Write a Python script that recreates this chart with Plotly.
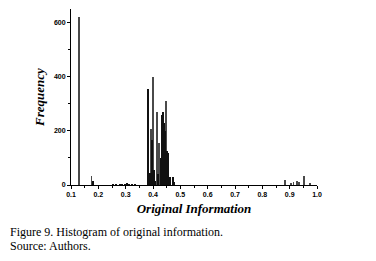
import plotly.graph_objects as go

# Data
dark_x = [0.382, 0.386, 0.389, 0.395, 0.403, 0.406, 0.417, 0.420, 0.428, 0.431, 0.433, 0.436,
          0.439, 0.442, 0.445, 0.452, 0.456, 0.462, 0.474, 0.478,
          0.255, 0.265, 0.278, 0.285, 0.298, 0.305, 0.312, 0.322, 0.335, 0.18]
dark_y = [355, 40, 45, 165, 55, 15, 25, 40, 100, 140, 260, 270,
          180, 230, 200, 125, 120, 30, 30, 10,
          2, 1, 2, 3, 2, 5, 2, 2, 2, 15]
gray_x = [0.128, 0.175, 0.392, 0.399, 0.413, 0.423, 0.440, 0.449,
          0.883, 0.905, 0.914, 0.926, 0.935, 0.953, 0.975]
gray_y = [620, 35, 205, 400, 270, 155, 80, 310,
          20, 5, 10, 15, 12, 35, 5]

x_ticks = [0.1, 0.2, 0.3, 0.4, 0.5, 0.6, 0.7, 0.8, 0.9, 1.0]
y_ticks = [0, 200, 400, 600]

fig = go.Figure()
fig.add_trace(go.Bar(x=gray_x, y=gray_y, width=0.0035, marker_color="#4a4a4a",
                     marker_line_width=0))
fig.add_trace(go.Bar(x=dark_x, y=dark_y, width=0.0035, marker_color="#111111",
                     marker_line_width=0))

tickfont = dict(family="Liberation Sans", size=7, color="black")
fig.update_layout(
    width=368, height=253,
    margin=dict(l=63, r=59, t=1, b=76),
    paper_bgcolor="white", plot_bgcolor="white",
    showlegend=False, barmode="overlay", bargap=0,
    font=dict(family="Liberation Sans", color="black"),
)
fig.update_xaxes(
    range=[0.1, 1.0], tickvals=x_ticks, ticktext=[f"<b>{v:.1f}</b>" for v in x_ticks],
    tickfont=tickfont, ticks="outside", ticklen=3, tickwidth=1, tickcolor="black",
    minor=dict(dtick=0.05, tick0=0.1, ticks="outside", ticklen=2, tickcolor="black"),
    showline=True, linecolor="black", linewidth=1, showgrid=False, zeroline=False,
    title=dict(text="<b><i>Original Information</i></b>",
               font=dict(family="Liberation Serif", size=13), standoff=6),
)
fig.update_yaxes(
    range=[0, 650], tickvals=y_ticks, ticktext=[f"<b>{v}</b>" for v in y_ticks],
    tickfont=tickfont, ticks="outside", ticklen=3, tickwidth=1, tickcolor="black",
    minor=dict(dtick=100, ticks="outside", ticklen=2, tickcolor="black"),
    showline=True, linecolor="black", linewidth=1, showgrid=False, zeroline=False,
    title=dict(text="<b><i>Frequency</i></b>",
               font=dict(family="Liberation Serif", size=13), standoff=6),
)
cap_font = dict(family="Liberation Serif", size=12, color="black")
fig.add_annotation(text="Figure 9. Histogram of original information.", xref="paper", yref="paper",
                   x=-0.256, y=-0.267, xanchor="left", yanchor="middle", showarrow=False, font=cap_font)
fig.add_annotation(text="Source: Authors.", xref="paper", yref="paper",
                   x=-0.256, y=-0.347, xanchor="left", yanchor="middle", showarrow=False, font=cap_font)

fig.write_html("out.html")
